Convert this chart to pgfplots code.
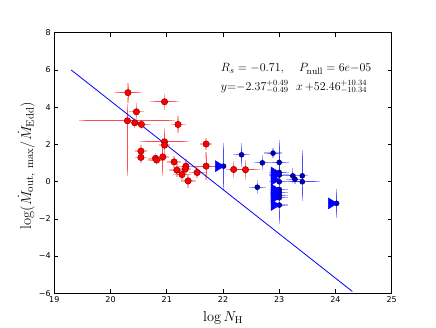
\documentclass[border=0pt]{standalone}
\usepackage{pgfplots}
\pgfplotsset{compat=1.18}
\usepackage{fontspec}
\newfontfamily\dejavu{DejaVu Sans}
\pgfdeclareplotmark{caretR}{%
 \pgfpathmoveto{\pgfqpoint{0.8pt}{0pt}}%
 \pgfpathlineto{\pgfqpoint{-8.2pt}{5.5pt}}%
 \pgfpathlineto{\pgfqpoint{-8.2pt}{-5.5pt}}%
 \pgfpathclose\pgfusepathqfillstroke}
\pgfplotstableread{
x y ex ey
20.31 4.78 0.20 0.37
20.96 4.29 0.20 0.27
20.46 3.75 0.08 0.30
20.43 3.16 0.05 0.10
20.55 3.07 0.12 0.10
21.20 3.07 0.08 0.30
20.96 2.14 0.39 0.60
20.96 1.96 0.05 0.20
21.70 2.02 0.05 0.15
20.54 1.64 0.06 0.15
20.54 1.30 0.06 0.15
20.80 1.25 0.08 0.10
20.82 1.16 0.10 0.10
20.93 1.33 0.05 0.86
21.13 1.06 0.07 0.15
21.18 0.62 0.08 0.20
21.34 0.83 0.10 0.25
21.33 0.68 0.05 0.15
21.27 0.38 0.10 0.15
21.38 0.04 0.08 0.20
21.54 0.49 0.10 0.15
21.70 0.83 0.25 0.58
22.19 0.65 0.09 0.27
22.40 0.64 0.20 0.37
}\redtab
\pgfplotstableread{
x y ex ey
22.01 0.83 0.00 1.10
22.33 1.44 0.10 0.48
22.70 1.01 0.10 0.25
22.61 -0.30 0.10 0.20
22.89 1.53 0.10 0.10
23.00 1.03 0.12 0.20
23.00 0.49 0.12 0.15
23.00 0.35 0.12 0.15
23.00 -0.01 0.12 2.10
23.00 -0.42 0.10 0.15
23.00 -0.58 0.10 0.15
23.00 -0.73 0.10 0.15
23.00 -0.87 0.10 0.15
23.00 -1.26 0.10 0.15
23.24 0.31 0.12 0.25
23.28 0.13 0.10 0.10
23.41 0.31 0.05 1.21
23.41 -0.01 0.26 0.10
24.02 -1.17 0.00 0.60
}\bluetab
\pgfplotstableread{
x y
22.01 0.83
23.00 0.49
23.00 0.35
23.00 0.10
23.00 -0.42
23.00 -0.58
23.00 -0.73
23.00 -0.87
23.00 -1.26
24.02 -1.17
}\tritab
\begin{document}
\begin{tikzpicture}
\path[use as bounding box] (-54.3pt,-33.7pt) rectangle (381.7pt,293.3pt);
\begin{axis}[at={(0pt,0pt)}, anchor=south west, scale only axis,
  width=337.4pt, height=260.6pt,
  xmin=19, xmax=25, ymin=-6, ymax=8,
  xtick={19,20,21,22,23,24,25}, xticklabels={19,20,21,22,23,24,25},
  ytick={-6,-4,-2,0,2,4,6,8}, yticklabels={−6,−4,−2,0,2,4,6,8},
  ticklabel style={font=\dejavu\fontsize{8}{9}\selectfont},
  tick align=inside, tick pos=both, major tick length=4pt,
  tick style={black, line width=0.6pt},
  axis line style={black, line width=0.8pt},
  xlabel={$\log N_{\rm H}$},
  ylabel={$\log(\dot{M}_{\rm out,\ max}/\dot{M}_{\rm Edd})$},
  every axis x label/.style={at={(axis description cs:0.5,0)}, anchor=center, yshift=-24.5pt, font=\fontsize{14.4}{16}\selectfont},
  every axis y label/.style={at={(axis description cs:-0.082,0.49)}, anchor=center, rotate=90, font=\fontsize{15.5}{17}\selectfont},
  clip=false,
]
\addplot[only marks, mark=*, mark size=3.2pt, mark options={fill=red, draw=red!55!black, line width=0.5pt},
  error bars/.cd, x dir=both, x explicit, y dir=both, y explicit,
  error bar style={red, line width=0.8pt, opacity=0.7},
  error mark options={mark size=3pt, line width=1.3pt, red!45}]
  table[x=x, y=y, x error=ex, y error=ey] {\redtab};
\addplot[only marks, mark=*, mark size=3.2pt, mark options={fill=red, draw=red!55!black, line width=0.5pt},
  error bars/.cd, x dir=both, x explicit, y dir=both, y explicit,
  error bar style={red, line width=0.8pt, opacity=0.7},
  error mark options={mark size=3pt, line width=1.3pt, red!45}]
  coordinates {(20.30,3.27) += (0.8,0.75) -= (0.8,2.8)};
\addplot[only marks, mark=*, mark size=2.5pt, mark options={fill=blue!75!black, draw=blue!40!black, line width=0.5pt},
  error bars/.cd, x dir=both, x explicit, y dir=both, y explicit,
  error bar style={blue, line width=0.8pt, opacity=0.7},
  error mark options={mark size=3pt, line width=1.3pt, blue!45}]
  table[x=x, y=y, x error=ex, y error=ey] {\bluetab};
\addplot[only marks, mark=caretR, mark options={fill=blue, draw=blue, line width=0.3pt}]
  table[x=x, y=y] {\tritab};
\addplot[blue, line width=0.8pt] coordinates {(19.3,6.0) (24.3,-5.9)};
\node[anchor=base west, font=\fontsize{13.2}{14}\selectfont, inner ysep=0pt] at (axis cs:21.90,5.9) {$R_s={-}0.71,\quad P_{\rm null}=6e{-}05$};
\node[anchor=base west, font=\fontsize{11.5}{12}\selectfont, inner ysep=0pt] at (axis cs:21.90,4.92) {$y{=}{-}2.37^{+0.49}_{-0.49}\ \ x\,{+}52.46^{+10.34}_{-10.34}$};
\end{axis}
\end{tikzpicture}
\end{document}
